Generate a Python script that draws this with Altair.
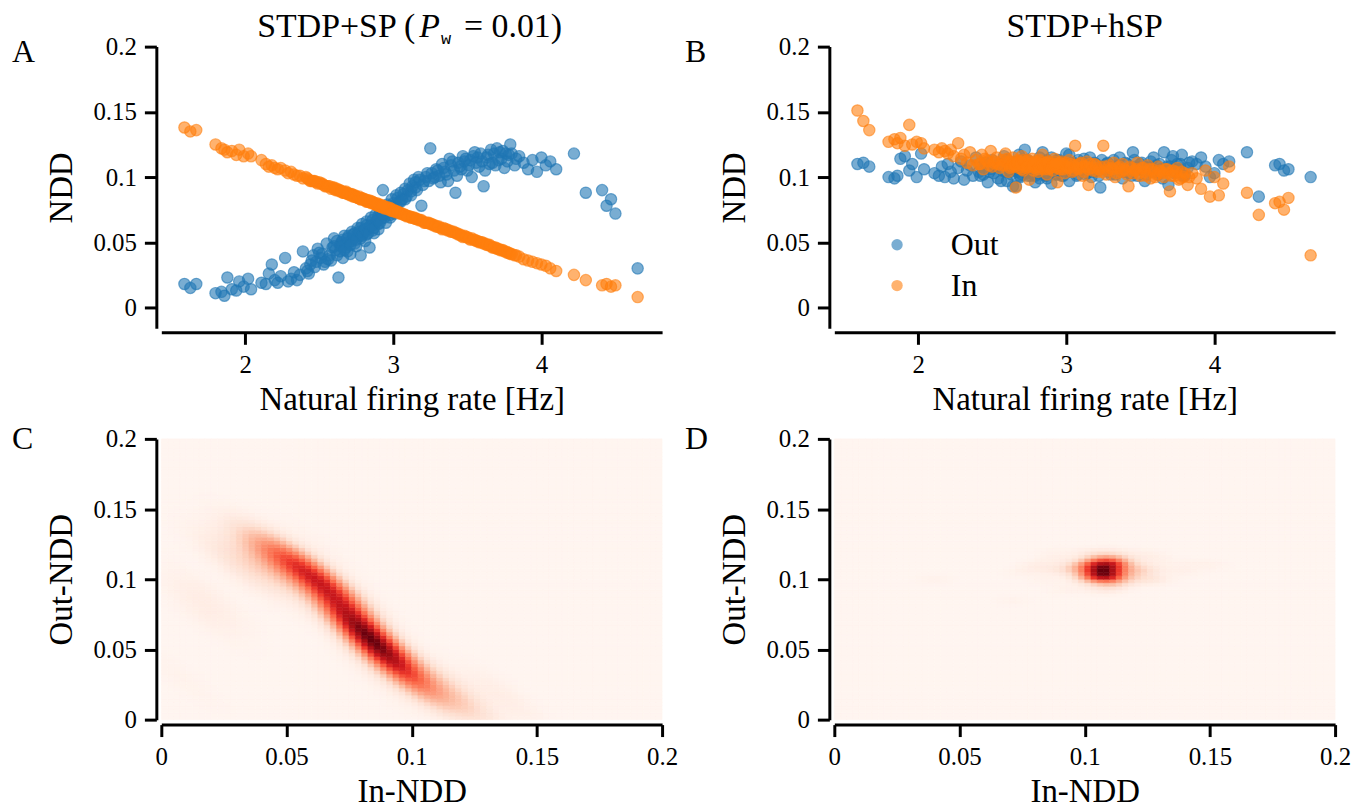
import numpy as np
import pandas as pd
import altair as alt

alt.data_transformers.disable_max_rows()

# ---------------- data (one entry per neuron) ----------------
rate = [
    1.59, 1.63, 1.67, 1.80, 1.84, 1.86, 1.88, 1.91, 1.94, 1.96,
    1.99, 2.02, 2.04, 2.11, 2.14, 2.16, 2.18, 2.20, 2.22, 2.24,
    2.27, 2.29, 2.31, 2.33, 2.35, 2.37, 2.39, 2.41, 2.43, 2.44,
    2.45, 2.47, 2.49, 2.50, 2.51, 2.53, 2.54, 2.55, 2.57, 2.58,
    2.59, 2.60, 2.61, 2.62, 2.63, 2.64, 2.65, 2.66, 2.67, 2.68,
    2.69, 2.70, 2.71, 2.72, 2.73, 2.75, 2.76, 2.77, 2.78, 2.79,
    2.80, 2.81, 2.82, 2.83, 2.84, 2.85, 2.86, 2.87, 2.88, 2.89,
    2.90, 2.91, 2.92, 2.93, 2.94, 2.95, 2.96, 2.97, 2.98, 2.99,
    3.00, 3.01, 3.02, 3.04, 3.05, 3.06, 3.08, 3.09, 3.11, 3.12,
    3.14, 3.15, 3.17, 3.19, 3.21, 3.23, 3.25, 3.27, 3.29, 3.31,
    3.32, 3.33, 3.35, 3.37, 3.38, 3.40, 3.42, 3.43, 3.45, 3.47,
    3.48, 3.50, 3.52, 3.53, 3.55, 3.57, 3.58, 3.61, 3.62, 3.64,
    3.66, 3.67, 3.69, 3.70, 3.72, 3.73, 3.75, 3.76, 3.78, 3.79,
    3.82, 3.85, 3.88, 3.91, 3.94, 3.97, 4.00, 4.03, 4.06, 4.10,
    4.22, 4.30, 4.41, 4.44, 4.47, 4.50, 4.65,
    2.52, 2.56, 2.60, 2.62, 2.64, 2.66, 2.68, 2.70, 2.72, 2.74,
    2.74, 2.76, 2.78, 2.78, 2.80, 2.82, 2.82, 2.84, 2.86, 2.86,
    2.88, 2.90, 2.90, 2.92, 2.94, 2.94, 2.96, 2.98, 2.98, 3.00,
    3.02, 3.03, 3.05, 3.07, 3.08, 3.10, 3.12, 3.13, 3.15, 3.16,
    3.18, 3.20, 3.22, 3.24, 3.26, 3.28, 3.30, 3.34, 3.36, 3.39,
    3.41, 3.44, 3.46, 3.49, 3.51, 3.54, 3.56, 3.59, 3.60, 3.63,
    3.65, 3.68, 3.71, 3.74, 3.77, 3.80, 3.83, 2.48, 2.46, 2.42,
    2.65, 2.67, 2.69, 2.71, 2.73, 2.75, 2.77, 2.79, 2.81, 2.83,
    2.85, 2.87, 2.89, 2.91, 2.93]

out_a = [
    0.018, 0.015, 0.018, 0.011, 0.012, 0.009, 0.023, 0.014, 0.013, 0.020,
    0.016, 0.022, 0.014, 0.019, 0.018, 0.026, 0.033, 0.021, 0.019, 0.024,
    0.038, 0.020, 0.022, 0.027, 0.021, 0.025, 0.043, 0.030, 0.026, 0.033,
    0.036, 0.031, 0.045, 0.042, 0.038, 0.033, 0.035, 0.049, 0.040, 0.036,
    0.046, 0.053, 0.044, 0.040, 0.023, 0.048, 0.050, 0.038, 0.055, 0.046,
    0.043, 0.050, 0.041, 0.058, 0.053, 0.047, 0.061, 0.055, 0.040, 0.064,
    0.057, 0.051, 0.066, 0.060, 0.046, 0.069, 0.063, 0.057, 0.071, 0.066,
    0.060, 0.074, 0.068, 0.090, 0.072, 0.065, 0.079, 0.074, 0.069, 0.083,
    0.077, 0.072, 0.086, 0.081, 0.088, 0.083, 0.091, 0.085, 0.095, 0.089,
    0.098, 0.092, 0.100, 0.078, 0.097, 0.103, 0.122, 0.099, 0.106, 0.101,
    0.096, 0.110, 0.104, 0.097, 0.114, 0.112, 0.088, 0.101, 0.108, 0.116,
    0.112, 0.105, 0.113, 0.100, 0.119, 0.115, 0.108, 0.093, 0.105, 0.117,
    0.121, 0.111, 0.109, 0.122, 0.119, 0.114, 0.107, 0.118, 0.117, 0.125,
    0.109, 0.116, 0.111, 0.106, 0.113, 0.104, 0.115, 0.109, 0.112, 0.106,
    0.118, 0.088, 0.090, 0.078, 0.083, 0.072, 0.030,
    0.041, 0.037, 0.047, 0.051, 0.043, 0.052, 0.049, 0.055, 0.051, 0.057,
    0.049, 0.056, 0.061, 0.053, 0.059, 0.063, 0.056, 0.062, 0.067, 0.059,
    0.065, 0.070, 0.064, 0.072, 0.069, 0.076, 0.073, 0.078, 0.071, 0.080,
    0.077, 0.084, 0.081, 0.087, 0.083, 0.090, 0.086, 0.093, 0.096, 0.090,
    0.098, 0.094, 0.100, 0.097, 0.103, 0.100, 0.105, 0.107, 0.102, 0.109,
    0.105, 0.111, 0.106, 0.114, 0.109, 0.116, 0.111, 0.118, 0.112, 0.115,
    0.110, 0.118, 0.113, 0.120, 0.112, 0.118, 0.114, 0.035, 0.040, 0.028,
    0.047, 0.044, 0.053, 0.048, 0.056, 0.052, 0.058, 0.055, 0.060, 0.057,
    0.063, 0.061, 0.067, 0.065, 0.071]

in_a = [
    0.138, 0.135, 0.136, 0.125, 0.122, 0.121, 0.119, 0.120, 0.117, 0.121,
    0.116, 0.118, 0.116, 0.113, 0.110, 0.108, 0.109, 0.107, 0.106, 0.107,
    0.105, 0.103, 0.104, 0.102, 0.101, 0.101, 0.099, 0.100, 0.098, 0.097,
    0.097, 0.097, 0.095, 0.096, 0.095, 0.094, 0.093, 0.093, 0.093, 0.091,
    0.092, 0.092, 0.090, 0.090, 0.090, 0.089, 0.089, 0.089, 0.088, 0.088,
    0.087, 0.087, 0.086, 0.087, 0.085, 0.085, 0.084, 0.085, 0.083, 0.084,
    0.083, 0.082, 0.082, 0.081, 0.082, 0.080, 0.081, 0.080, 0.079, 0.080,
    0.078, 0.079, 0.077, 0.078, 0.077, 0.076, 0.077, 0.075, 0.076, 0.074,
    0.075, 0.074, 0.073, 0.073, 0.072, 0.072, 0.071, 0.070, 0.070, 0.069,
    0.069, 0.068, 0.067, 0.067, 0.065, 0.065, 0.064, 0.063, 0.062, 0.062,
    0.061, 0.060, 0.060, 0.059, 0.059, 0.058, 0.057, 0.057, 0.056, 0.054,
    0.055, 0.054, 0.052, 0.053, 0.052, 0.051, 0.050, 0.049, 0.049, 0.048,
    0.047, 0.046, 0.046, 0.045, 0.044, 0.044, 0.043, 0.043, 0.042, 0.041,
    0.040, 0.039, 0.037, 0.036, 0.035, 0.034, 0.033, 0.032, 0.030, 0.028,
    0.025, 0.021, 0.017, 0.018, 0.016, 0.017, 0.008,
    0.095, 0.093, 0.091, 0.091, 0.090, 0.088, 0.089, 0.087, 0.086, 0.086,
    0.085, 0.084, 0.084, 0.083, 0.083, 0.082, 0.081, 0.081, 0.080, 0.081,
    0.079, 0.079, 0.078, 0.077, 0.077, 0.076, 0.076, 0.075, 0.076, 0.074,
    0.074, 0.073, 0.072, 0.071, 0.071, 0.070, 0.069, 0.069, 0.068, 0.068,
    0.067, 0.066, 0.065, 0.065, 0.064, 0.063, 0.062, 0.061, 0.060, 0.058,
    0.058, 0.056, 0.055, 0.054, 0.053, 0.052, 0.051, 0.050, 0.050, 0.048,
    0.048, 0.046, 0.045, 0.044, 0.042, 0.041, 0.040, 0.096, 0.097, 0.099,
    0.089, 0.088, 0.088, 0.087, 0.086, 0.085, 0.084, 0.083, 0.083, 0.082,
    0.081, 0.080, 0.079, 0.078, 0.078]

out_b = [
    0.110, 0.111, 0.108, 0.100, 0.099, 0.101, 0.114, 0.116, 0.105, 0.110,
    0.100, 0.118, 0.106, 0.103, 0.101, 0.108, 0.100, 0.110, 0.104, 0.099,
    0.107, 0.112, 0.098, 0.105, 0.109, 0.101, 0.115, 0.104, 0.108, 0.102,
    0.111, 0.096, 0.106, 0.113, 0.103, 0.108, 0.099, 0.110, 0.105, 0.116,
    0.104, 0.097, 0.107, 0.109, 0.102, 0.106, 0.111, 0.093, 0.104, 0.108,
    0.100, 0.113, 0.106, 0.121, 0.103, 0.108, 0.101, 0.110, 0.105, 0.096,
    0.109, 0.112, 0.104, 0.107, 0.119, 0.102, 0.106, 0.099, 0.110, 0.105,
    0.095, 0.108, 0.111, 0.103, 0.107, 0.113, 0.104, 0.101, 0.109, 0.106,
    0.118, 0.104, 0.097, 0.108, 0.111, 0.105, 0.102, 0.109, 0.106, 0.114,
    0.103, 0.108, 0.100, 0.111, 0.105, 0.092, 0.107, 0.110, 0.104, 0.108,
    0.113, 0.102, 0.109, 0.105, 0.099, 0.111, 0.106, 0.103, 0.119, 0.108,
    0.101, 0.110, 0.105, 0.097, 0.107, 0.112, 0.104, 0.109, 0.102, 0.106,
    0.119, 0.105, 0.094, 0.108, 0.116, 0.103, 0.110, 0.106, 0.117, 0.101,
    0.107, 0.112, 0.110, 0.115, 0.108, 0.100, 0.103, 0.113, 0.110, 0.112,
    0.119, 0.085, 0.109, 0.110, 0.105, 0.106, 0.100,
    0.108, 0.097, 0.113, 0.104, 0.093, 0.110, 0.117, 0.102, 0.108, 0.113,
    0.101, 0.106, 0.111, 0.102, 0.108, 0.099, 0.115, 0.106, 0.111, 0.101,
    0.108, 0.115, 0.104, 0.110, 0.102, 0.113, 0.106, 0.101, 0.111, 0.108,
    0.117, 0.104, 0.110, 0.101, 0.113, 0.106, 0.111, 0.102, 0.108, 0.115,
    0.104, 0.110, 0.101, 0.113, 0.106, 0.111, 0.102, 0.108, 0.115, 0.104,
    0.110, 0.101, 0.113, 0.106, 0.111, 0.102, 0.108, 0.115, 0.104, 0.110,
    0.099, 0.108, 0.113, 0.104, 0.110, 0.101, 0.111, 0.104, 0.111, 0.101,
    0.106, 0.111, 0.101, 0.108, 0.113, 0.104, 0.110, 0.101, 0.111, 0.106,
    0.102, 0.113, 0.106, 0.110, 0.102]

in_b = [
    0.151, 0.143, 0.136, 0.127, 0.129, 0.126, 0.130, 0.124, 0.140, 0.125,
    0.127, 0.126, 0.122, 0.121, 0.119, 0.122, 0.120, 0.118, 0.121, 0.116,
    0.126, 0.114, 0.117, 0.111, 0.119, 0.109, 0.113, 0.110, 0.117, 0.106,
    0.114, 0.112, 0.120, 0.108, 0.111, 0.115, 0.110, 0.107, 0.113, 0.109,
    0.118, 0.111, 0.104, 0.112, 0.108, 0.115, 0.110, 0.092, 0.113, 0.107,
    0.111, 0.116, 0.105, 0.109, 0.112, 0.098, 0.110, 0.114, 0.107, 0.111,
    0.108, 0.104, 0.113, 0.109, 0.117, 0.106, 0.110, 0.102, 0.112, 0.107,
    0.110, 0.105, 0.114, 0.108, 0.096, 0.110, 0.106, 0.112, 0.108, 0.103,
    0.111, 0.107, 0.113, 0.104, 0.109, 0.124, 0.106, 0.110, 0.101, 0.108,
    0.112, 0.094, 0.107, 0.110, 0.104, 0.108, 0.124, 0.102, 0.109, 0.106,
    0.111, 0.100, 0.107, 0.104, 0.110, 0.105, 0.093, 0.108, 0.103, 0.106,
    0.111, 0.101, 0.107, 0.104, 0.109, 0.099, 0.106, 0.102, 0.108, 0.104,
    0.100, 0.106, 0.103, 0.089, 0.105, 0.101, 0.107, 0.098, 0.104, 0.100,
    0.094, 0.103, 0.099, 0.091, 0.105, 0.085, 0.100, 0.086, 0.095, 0.108,
    0.088, 0.071, 0.080, 0.081, 0.075, 0.084, 0.040,
    0.112, 0.109, 0.114, 0.107, 0.111, 0.109, 0.112, 0.106, 0.110, 0.108,
    0.113, 0.109, 0.111, 0.105, 0.110, 0.108, 0.112, 0.107, 0.111, 0.109,
    0.106, 0.110, 0.108, 0.112, 0.107, 0.109, 0.111, 0.106, 0.110, 0.108,
    0.107, 0.110, 0.105, 0.109, 0.107, 0.111, 0.104, 0.108, 0.106, 0.110,
    0.105, 0.109, 0.106, 0.104, 0.108, 0.105, 0.107, 0.103, 0.108, 0.106,
    0.102, 0.107, 0.105, 0.103, 0.107, 0.101, 0.106, 0.104, 0.100, 0.105,
    0.103, 0.106, 0.101, 0.104, 0.099, 0.103, 0.100, 0.109, 0.113, 0.110,
    0.108, 0.111, 0.109, 0.113, 0.107, 0.110, 0.108, 0.112, 0.106, 0.110,
    0.108, 0.111, 0.107, 0.109, 0.110]

series_names = ["Out", "In"]
series_colors = ["#1f77b4", "#ff7f0e"]
rate_ticks = [2, 3, 4]
ndd_ticks = [0, 0.05, 0.1, 0.15, 0.2]
reds_stops = [0, 0.125, 0.25, 0.375, 0.5, 0.625, 0.75, 0.875, 1.0]
reds_colors = ["#fff5f0", "#fee0d2", "#fcbba1", "#fc9272", "#fb6a4a",
               "#ef3b2c", "#cb181d", "#a50f15", "#67000d"]

FONT = "Liberation Serif"
LABEL_SIZE = 25
TITLE_SIZE = 33
W = 503
H_TOP = 283
H_BOT = 282
KDE_FACTOR = 0.45
dummy = pd.DataFrame({"k": [0]})


def axis(title, values, fmt, offset, pad):
    return alt.Axis(values=values, format=fmt, title=title, offset=offset,
                    labelFont=FONT, labelFontSize=LABEL_SIZE,
                    titleFont=FONT, titleFontSize=TITLE_SIZE,
                    titleFontWeight="normal", titlePadding=pad)


def txt(s, x, y, size=34, align="left", font=FONT, style="normal"):
    return alt.Chart(dummy).mark_text(
        text=s, font=font, fontSize=size, align=align, baseline="alphabetic",
        fontStyle=style, color="black"
    ).encode(x=alt.value(x), y=alt.value(y))


def scatter(out_vals, in_vals, show_legend):
    n = len(rate)
    df = pd.DataFrame({
        "rate": rate + rate,
        "ndd": out_vals + in_vals,
        "series": [series_names[0]] * n + [series_names[1]] * n,
    })
    cscale = alt.Scale(domain=series_names, range=series_colors)
    if show_legend:
        leg = alt.Legend(orient="none", legendX=47, legendY=183, title=None,
                         labelFont=FONT, labelFontSize=32, labelColor="black",
                         symbolSize=130, symbolType="circle", symbolOpacity=0.6,
                         symbolStrokeWidth=0, labelOffset=38, rowPadding=9,
                         padding=0)
    else:
        leg = None
    return alt.Chart(df).mark_circle(
        size=130, fillOpacity=0.6, strokeOpacity=0.6, strokeWidth=1.2
    ).encode(
        x=alt.X("rate:Q",
                scale=alt.Scale(domain=[1.434, 4.815], nice=False, zero=False),
                axis=axis("Natural firing rate [Hz]", rate_ticks, "d", 4, 6)),
        y=alt.Y("ndd:Q",
                scale=alt.Scale(domain=[-0.016, 0.2], nice=False, zero=False),
                axis=axis("NDD", ndd_ticks, "~g", 5, 14)),
        color=alt.Color("series:N", scale=cscale, legend=leg),
        stroke=alt.Stroke("series:N", scale=cscale, legend=None),
    )


def kde_cells(xv, yv, n=80, lo=0.0, hi=0.2, factor=KDE_FACTOR):
    d = np.array([xv, yv], dtype=float)
    cov = np.cov(d) * factor * factor
    inv = np.linalg.inv(cov)
    edges = np.linspace(lo, hi, n + 1)
    c = (edges[:-1] + edges[1:]) / 2
    gx, gy = np.meshgrid(c, c)
    dx = gx.ravel()[:, None] - d[0][None, :]
    dy = gy.ravel()[:, None] - d[1][None, :]
    q = inv[0, 0] * dx * dx + 2 * inv[0, 1] * dx * dy + inv[1, 1] * dy * dy
    dens = np.exp(-0.5 * q).sum(axis=1)
    dens = dens / dens.max()
    ix, iy = np.meshgrid(np.arange(n), np.arange(n))
    ix = ix.ravel()
    iy = iy.ravel()
    return pd.DataFrame({
        "x0": np.round(edges[ix], 5), "x1": np.round(edges[ix + 1], 5),
        "y0": np.round(edges[iy], 5), "y1": np.round(edges[iy + 1], 5),
        "d": np.round(dens, 4),
    })


def heat(in_vals, out_vals):
    df = kde_cells(in_vals, out_vals)
    hs = alt.Scale(domain=reds_stops, range=reds_colors, interpolate="rgb")
    return alt.Chart(df).mark_rect(strokeWidth=0.6).encode(
        x=alt.X("x0:Q", scale=alt.Scale(domain=[0, 0.2], nice=False),
                axis=axis("In-NDD", ndd_ticks, "~g", 5, 6)),
        x2="x1:Q",
        y=alt.Y("y0:Q", scale=alt.Scale(domain=[0, 0.2], nice=False),
                axis=axis("Out-NDD", ndd_ticks, "~g", 5, 14)),
        y2="y1:Q",
        fill=alt.Fill("d:Q", scale=hs, legend=None),
        stroke=alt.Stroke("d:Q", scale=hs, legend=None),
    )


panel_a = alt.layer(
    scatter(out_a, in_a, False),
    txt("A", -150, 15, 32),
    txt("STDP+SP (", 255, -10, 34, align="right"),
    txt("P", 259, -10, 34, style="italic"),
    txt("w", 281, -3, 17, font="Liberation Mono"),
    txt("= 0.01)", 304, -10, 34),
).properties(width=W, height=H_TOP)

panel_b = alt.layer(
    scatter(out_b, in_b, True),
    txt("B", -150, 15, 32),
    txt("STDP+hSP", W / 2, -10, 34, align="center"),
).properties(width=W, height=H_TOP)

panel_c = alt.layer(
    heat(in_a, out_a),
    txt("C", -150, 10, 32),
).properties(width=W, height=H_BOT)

panel_d = alt.layer(
    heat(in_b, out_b),
    txt("D", -150, 10, 32),
).properties(width=W, height=H_BOT)

chart = alt.concat(
    panel_a, panel_b, panel_c, panel_d, columns=2,
    spacing={"row": 111, "column": 173}, bounds="flush",
).resolve_scale(
    x="independent", y="independent", color="independent",
    fill="independent", stroke="independent",
).resolve_legend(color="independent", stroke="independent", fill="independent").properties(
    padding={"left": 4, "top": 0, "right": 5, "bottom": 5},
    background="white",
).configure_axis(
    domainColor="black", domainWidth=3, tickColor="black", tickWidth=3,
    tickSize=12, labelFont=FONT, labelFontSize=LABEL_SIZE, labelColor="black",
    titleFont=FONT, titleFontSize=TITLE_SIZE, titleFontWeight="normal",
    titleColor="black", grid=False, labelFlush=False, labelOverlap=False,
    labelPadding=8,
).configure_view(stroke=None)

chart.save("out.html", embed_options={"renderer": "svg", "actions": False})
